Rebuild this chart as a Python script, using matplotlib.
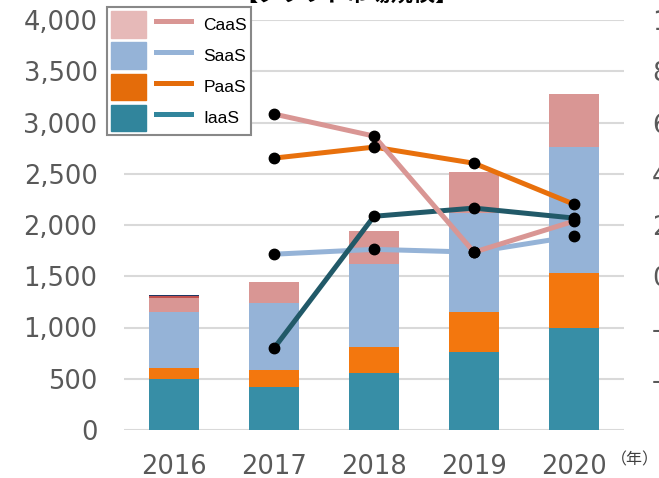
import matplotlib
matplotlib.use("Agg")
import matplotlib.pyplot as plt
from matplotlib.patches import Patch
from matplotlib.lines import Line2D
from matplotlib.legend_handler import HandlerTuple
from matplotlib.ticker import FuncFormatter

# ---- data ----
years = ["2016", "2017", "2018", "2019", "2020"]
iaas = [500, 416, 559, 758, 995]
paas = [108, 169, 254, 393, 537]
saas = [546, 651, 807, 969, 1229]
caas = [134, 210, 321, 394, 517]
extra_red = [20, 0, 0, 0, 0]
extra_navy = [10, 0, 0, 0, 0]

growth_years = ["2017", "2018", "2019", "2020"]
caas_g = [63.3, 54.7, 9.4, 21.5]
paas_g = [46.1, 50.4, 44.1, 28.1]
iaas_g = [-28.1, 23.4, 26.6, 22.7]
saas_g = [8.6, 10.5, 9.4, 15.6]

left_ticks = [0, 500, 1000, 1500, 2000, 2500, 3000, 3500, 4000]
right_ticks = [-40, -20, 0, 20, 40, 60, 80, 100]

# ---- style ----
C_IAAS = "#378EA6"
C_PAAS = "#F3770E"
C_SAAS = "#95B3D7"
C_CAAS = "#D99694"
L_IAAS = "#215968"
L_PAAS = "#E8700C"
GRAY = "#595959"
FS = 18.5

fig = plt.figure(figsize=(6.59, 4.78), dpi=100)
ax = fig.add_axes([124 / 659, 48 / 478, 500 / 659, 410 / 478])
x = list(range(len(years)))

bottom = [0] * len(years)
for vals, col in [(iaas, C_IAAS), (paas, C_PAAS), (saas, C_SAAS), (caas, C_CAAS),
                  (extra_red, "#C0504D"), (extra_navy, "#1F3864")]:
    ax.bar(x, vals, width=0.5, bottom=bottom, color=col, linewidth=0, zorder=2)
    bottom = [b + v for b, v in zip(bottom, vals)]

ax.set_xlim(-0.5, 4.5)
ax.set_ylim(0, 4000)
ax.set_yticks(left_ticks)
ax.yaxis.set_major_formatter(FuncFormatter(lambda v, p: f"{int(v):,}"))
ax.set_xticks(x)
ax.set_xticklabels(years)
ax.grid(axis="y", color="#D9D9D9", linewidth=1.5, zorder=0)
ax.set_axisbelow(True)
for s in ax.spines.values():
    s.set_visible(False)
ax.tick_params(axis="y", length=0, pad=19, labelsize=FS, labelcolor=GRAY)
ax.tick_params(axis="x", length=0, pad=17, labelsize=FS, labelcolor=GRAY)

ax2 = ax.twinx()
ax2.set_ylim(-60, 100)
ax2.set_yticks(right_ticks)
ax2.yaxis.set_major_formatter(FuncFormatter(lambda v, p: f"{int(v)}%"))
for s in ax2.spines.values():
    s.set_visible(False)
ax2.tick_params(axis="y", length=0, pad=20, labelsize=FS, labelcolor=GRAY)

gx = [years.index(y) for y in growth_years]
for vals, col in [(saas_g, C_SAAS), (iaas_g, L_IAAS), (paas_g, L_PAAS), (caas_g, C_CAAS)]:
    ax2.plot(gx, vals, color=col, linewidth=3.6, solid_capstyle="butt", zorder=3)
for vals in [saas_g, iaas_g, paas_g, caas_g]:
    ax2.plot(gx, vals, linestyle="none", marker="o", markersize=7.5,
             color="black", zorder=4)

# legend
handles = [
    (Patch(color="#E6B9B8"), Line2D([], [], color=C_CAAS, linewidth=3.6)),
    (Patch(color="#95B3D7"), Line2D([], [], color="#95B3D7", linewidth=3.6)),
    (Patch(color="#E46C0A"), Line2D([], [], color="#E46C0A", linewidth=3.6)),
    (Patch(color="#31859C"), Line2D([], [], color="#31859C", linewidth=3.6)),
]
labels = ["CaaS", "SaaS", "PaaS", "IaaS"]
leg = fig.legend(handles, labels, loc="upper left",
                 bbox_to_anchor=(107 / 659, 1 - 7 / 478),
                 handler_map={tuple: HandlerTuple(ndivide=None, pad=0.55)},
                 handlelength=4.6, handleheight=1.95, handletextpad=0.7,
                 labelspacing=0.28, borderpad=0.25, borderaxespad=0,
                 fancybox=False, framealpha=1, edgecolor="#888888",
                 prop={"family": "Liberation Sans", "size": 12.5})
leg.get_frame().set_linewidth(1.5)

fig.text(347 / 659, 1 - 2 / 478, "【クラウド市場規模】", ha="center", va="baseline",
         fontsize=16, fontweight="bold", family=["Noto Sans CJK JP", "DejaVu Sans"])
fig.text(611 / 659, 1 - 460 / 478, "（年）", ha="left", va="center",
         fontsize=11.5, color="#404040", family=["Noto Sans CJK JP", "DejaVu Sans"])

fig.savefig("out.png", dpi=100)
